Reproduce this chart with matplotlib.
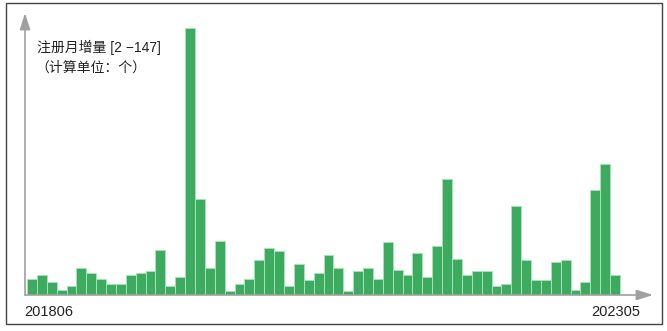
import matplotlib
matplotlib.use("Agg")
import matplotlib.pyplot as plt
from matplotlib.patches import Rectangle

plt.rcParams['font.family'] = ['Liberation Sans', 'Noto Sans CJK SC', 'DejaVu Sans']

# 月份范围 201806 - 202305，共60个月
start_label = "201806"
end_label = "202305"
monthly_added = [9, 11, 7, 3, 5, 15, 12, 9, 6, 6,
                 11, 12, 13, 25, 5, 10, 147, 53, 15, 30,
                 2, 6, 9, 19, 26, 24, 5, 17, 8, 12,
                 22, 15, 2, 13, 15, 9, 29, 14, 11, 23,
                 10, 27, 64, 20, 11, 13, 13, 5, 6, 49,
                 19, 8, 8, 18, 19, 3, 7, 58, 72, 11]
title_line1 = "注册月增量 [2 \u2212147]"
title_line2 = "（计算单位：个）"

W, H = 667, 331
fig = plt.figure(figsize=(W / 100, H / 100), dpi=100)
fig.patch.set_facecolor("white")

def fx(px):
    return px / W

def fy(py):
    return 1 - py / H

# 外框
fig.patches.append(Rectangle((fx(5.5), fy(323.5)), fx(656), (323.5 - 2.5) / H,
                             transform=fig.transFigure, fill=False,
                             edgecolor="#444444", linewidth=1.0))

ax_l, ax_r, ax_t, ax_b = 25, 653, 13, 295
ax = fig.add_axes([fx(ax_l), fy(ax_b), (ax_r - ax_l) / W, (ax_b - ax_t) / H])
ax.set_facecolor("none")

n = len(monthly_added)
xs = list(range(n))
ax.bar(xs, monthly_added, width=1.0, color="#3cab5f", edgecolor="#a6e3b6",
       linewidth=0.7, zorder=2)

bar_w = (620 - 27) / n
x0 = -0.5 - 2 / bar_w
ax.set_xlim(x0, x0 + (ax_r - ax_l) / bar_w)
ax.set_ylim(0, (ax_b - ax_t) / (ax_b - 28) * max(monthly_added))

for s in ax.spines.values():
    s.set_visible(False)
ax.set_xticks([])
ax.set_yticks([])

# 坐标轴箭头
arrow = dict(arrowstyle="-|>,head_length=1.0,head_width=0.32", color="#a0a0a0",
             linewidth=1.2, shrinkA=0, shrinkB=0)
ax.annotate("", xy=(0, 1), xytext=(0, 0), xycoords="axes fraction", arrowprops=arrow)
ax.annotate("", xy=(1, 0), xytext=(0, 0), xycoords="axes fraction", arrowprops=arrow)

fig.text(fx(24), fy(312), start_label, ha="left", va="center", fontsize=10.5, color="#222222")
fig.text(fx(640), fy(312), end_label, ha="right", va="center", fontsize=10.5, color="#222222")
fig.text(fx(37), fy(47), title_line1, ha="left", va="center", fontsize=10, color="#222222")
fig.text(fx(35), fy(68), title_line2, ha="left", va="center", fontsize=10, color="#222222")

fig.savefig("out.png", dpi=100, facecolor="white")
